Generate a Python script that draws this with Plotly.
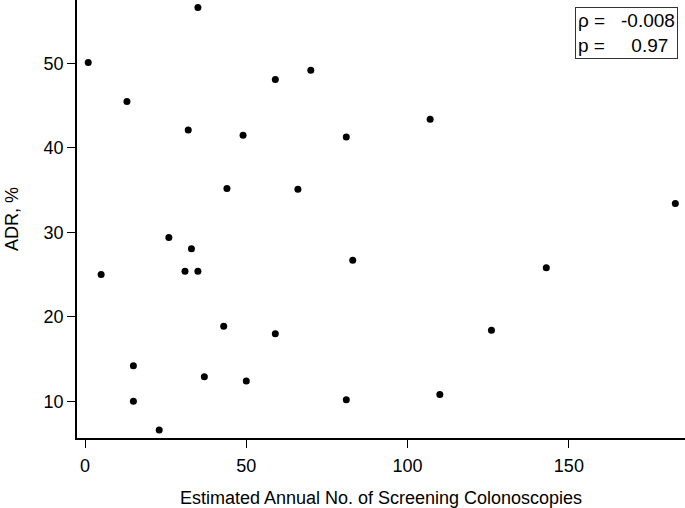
import plotly.graph_objects as go

screening_volume = [35, 1, 13, 32, 44, 49, 59, 70, 66, 81,
                    26, 33, 31, 35, 5, 83, 43, 59, 15, 37,
                    50, 15, 81, 23, 107, 183, 143, 126, 110]
adr_percent = [56.6, 50.1, 45.5, 42.1, 35.2, 41.5, 48.1, 49.2, 35.1, 41.3,
               29.4, 28.05, 25.4, 25.4, 25.0, 26.7, 18.9, 18.0, 14.2, 12.9,
               12.4, 10.0, 10.2, 6.6, 43.4, 33.4, 25.8, 18.4, 10.8]

x_ticks = [0, 50, 100, 150]
y_ticks = [10, 20, 30, 40, 50]
stats_text = "ρ =\u00a0\u00a0\u00a0-0.008<br>p =\u00a0\u00a0\u00a0\u00a0\u00a00.97"

FONT = "Liberation Sans, Arial, Helvetica, sans-serif"

fig = go.Figure()
fig.add_trace(go.Scatter(
    x=screening_volume, y=adr_percent, mode="markers",
    marker=dict(color="black", size=7, line=dict(width=0)),
    showlegend=False, hoverinfo="x+y",
))

fig.update_layout(
    width=685, height=508,
    margin=dict(l=77, r=0, t=0, b=70),
    paper_bgcolor="white", plot_bgcolor="white",
    font=dict(family=FONT, size=18, color="black"),
    xaxis=dict(
        range=[-2.48, 186.0], tickvals=x_ticks,
        showgrid=False, zeroline=False,
        showline=True, linecolor="black", linewidth=1.5,
        ticks="outside", ticklen=8, tickwidth=1.3, tickcolor="black",
        tickfont=dict(size=18), ticklabelstandoff=3,
        title=dict(text="Estimated Annual No. of Screening Colonoscopies",
                   font=dict(size=18), standoff=20),
    ),
    yaxis=dict(
        range=[5.66, 57.5], tickvals=y_ticks,
        showgrid=False, zeroline=False,
        showline=True, linecolor="black", linewidth=1.5,
        ticks="outside", ticklen=8, tickwidth=1.3, tickcolor="black",
        tickfont=dict(size=18),
        title=dict(text="ADR, %", font=dict(size=18), standoff=20),
    ),
    annotations=[dict(
        x=0.988, y=0.984, xref="paper", yref="paper",
        xanchor="right", yanchor="top",
        text=stats_text, showarrow=False, align="left",
        font=dict(size=19, family=FONT),
        bordercolor="#333333", borderwidth=1, borderpad=2,
        bgcolor="white",
    )],
)

fig.write_html("out.html", config={"displayModeBar": False},
               post_script="document.body.style.margin='0px';")
